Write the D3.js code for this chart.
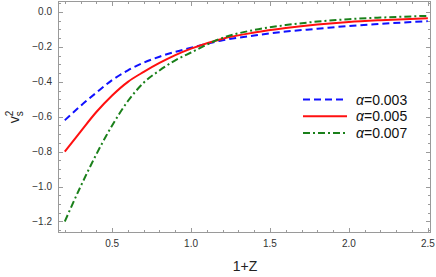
<!DOCTYPE html>
<html>
<head>
<meta charset="utf-8">
<script src="https://cdn.jsdelivr.net/npm/d3@7"></script>
<style>
  body { margin: 0; background: #fff; }
  svg { font-family: "Liberation Sans", Arial, sans-serif; }
</style>
</head>
<body>
<div id="chart"></div>
<script>
// 1+Z sample points
const zValues = [0.2, 0.3, 0.4, 0.5, 0.6, 0.7, 0.8, 0.9, 1.0, 1.2, 1.4, 1.6, 1.8, 2.0, 2.2, 2.5];
// v_s^2 for each alpha
const alpha003 = [-0.62, -0.538, -0.462, -0.39, -0.334, -0.29, -0.256, -0.228, -0.205, -0.162, -0.135, -0.112, -0.096, -0.080, -0.068, -0.052];
const alpha005 = [-0.80, -0.685, -0.573, -0.478, -0.40, -0.343, -0.292, -0.247, -0.21, -0.153, -0.118, -0.092, -0.072, -0.057, -0.047, -0.036];
const alpha007 = [-1.20, -1.0, -0.815, -0.65, -0.51, -0.405, -0.335, -0.277, -0.232, -0.148, -0.103, -0.075, -0.055, -0.041, -0.032, -0.022];
const seriesLabels = ["α=0.003", "α=0.005", "α=0.007"];
const xTicks = [0.5, 1.0, 1.5, 2.0, 2.5];
const yTicks = [0.0, -0.2, -0.4, -0.6, -0.8, -1.0, -1.2];

const width = 436, height = 277;
const margin = {top: 1, right: 5, bottom: 44, left: 58};

const svg = d3.select("#chart").append("svg")
    .attr("width", width)
    .attr("height", height);

const x = d3.scaleLinear().domain([0.157, 2.52]).range([margin.left, width - margin.right]);
const y = d3.scaleLinear().domain([-1.266, 0.063]).range([height - margin.bottom, margin.top]);

const frameColor = "#9a9a9a";
const x0 = margin.left, x1 = width - margin.right;
const y0 = height - margin.bottom, y1 = margin.top;

// ticks (Mathematica style, pointing inward on all four sides)
const minorX = d3.range(0.2, 2.55, 0.1).map(v => +v.toFixed(2));
const minorY = d3.range(-1.25, 0.06, 0.05).map(v => +v.toFixed(2));
const isMajor = (v, list) => list.some(t => Math.abs(t - v) < 1e-6);

const ticks = svg.append("g").attr("stroke", frameColor).attr("stroke-width", 1);
minorX.forEach(v => {
  const len = isMajor(v, xTicks) ? 5 : 3;
  const px = Math.round(x(v)) + 0.5;
  ticks.append("line").attr("x1", px).attr("x2", px).attr("y1", y0).attr("y2", y0 - len);
  ticks.append("line").attr("x1", px).attr("x2", px).attr("y1", y1).attr("y2", y1 + len);
});
minorY.forEach(v => {
  const len = isMajor(v, yTicks) ? 5 : 3;
  const py = Math.round(y(v)) + 0.5;
  ticks.append("line").attr("x1", x0).attr("x2", x0 + len).attr("y1", py).attr("y2", py);
  ticks.append("line").attr("x1", x1).attr("x2", x1 - len).attr("y1", py).attr("y2", py);
});

// frame
svg.append("rect")
    .attr("x", x0 + 0.5).attr("y", y1 + 0.5)
    .attr("width", x1 - x0 - 1).attr("height", y0 - y1 - 1)
    .attr("fill", "none").attr("stroke", frameColor).attr("stroke-width", 1);

// tick labels
const fmt = d3.format(".1f");
const lab = v => fmt(v).replace("-", "\u2212");
svg.append("g").selectAll("text").data(xTicks).join("text")
    .attr("x", d => x(d)).attr("y", y0 + 14)
    .attr("text-anchor", "middle")
    .attr("font-size", 10).attr("fill", "#333")
    .text(lab);
svg.append("g").selectAll("text").data(yTicks).join("text")
    .attr("x", x0 - 6).attr("y", d => y(d) + 3.5)
    .attr("text-anchor", "end")
    .attr("font-size", 10).attr("fill", "#333")
    .text(lab);

// axis titles
svg.append("text")
    .attr("x", 245).attr("y", 271)
    .attr("text-anchor", "middle")
    .attr("font-size", 14).attr("fill", "#222")
    .text("1+Z");

const yt = svg.append("text")
    .attr("transform", "translate(19,117) rotate(-90)")
    .attr("text-anchor", "middle")
    .attr("font-size", 14).attr("fill", "#222");
yt.append("tspan").text("v");
yt.append("tspan").attr("dy", -6).attr("font-size", 10).text("2");
yt.append("tspan").attr("dx", -5.5).attr("dy", 10).attr("font-size", 10).text("s");

// curves
const styles = [
  {color: "#1010ff", dash: "7,4"},
  {color: "#ff1010", dash: null},
  {color: "#1a801a", dash: "7,3,2,3"}
];
const allSeries = [alpha003, alpha005, alpha007];

const line = d3.line()
    .x((d, i) => x(zValues[i]))
    .y(d => y(d))
    .curve(d3.curveMonotoneX);

const plot = svg.append("g");
allSeries.forEach((s, i) => {
  plot.append("path")
      .attr("d", line(s))
      .attr("fill", "none")
      .attr("stroke", styles[i].color)
      .attr("stroke-width", 2)
      .attr("stroke-dasharray", styles[i].dash);
});

// legend
const legend = svg.append("g");
seriesLabels.forEach((t, i) => {
  const ly = 99.5 + i * 16.7;
  legend.append("line")
      .attr("x1", 303).attr("x2", 347)
      .attr("y1", ly).attr("y2", ly)
      .attr("stroke", styles[i].color).attr("stroke-width", 2)
      .attr("stroke-dasharray", styles[i].dash);
  const tx = legend.append("text")
      .attr("x", 356).attr("y", ly + 5)
      .attr("font-size", 14).attr("fill", "#111");
  tx.append("tspan").attr("font-style", "italic").text("α");
  tx.append("tspan").text(t.slice(1));
});
</script>
</body>
</html>
